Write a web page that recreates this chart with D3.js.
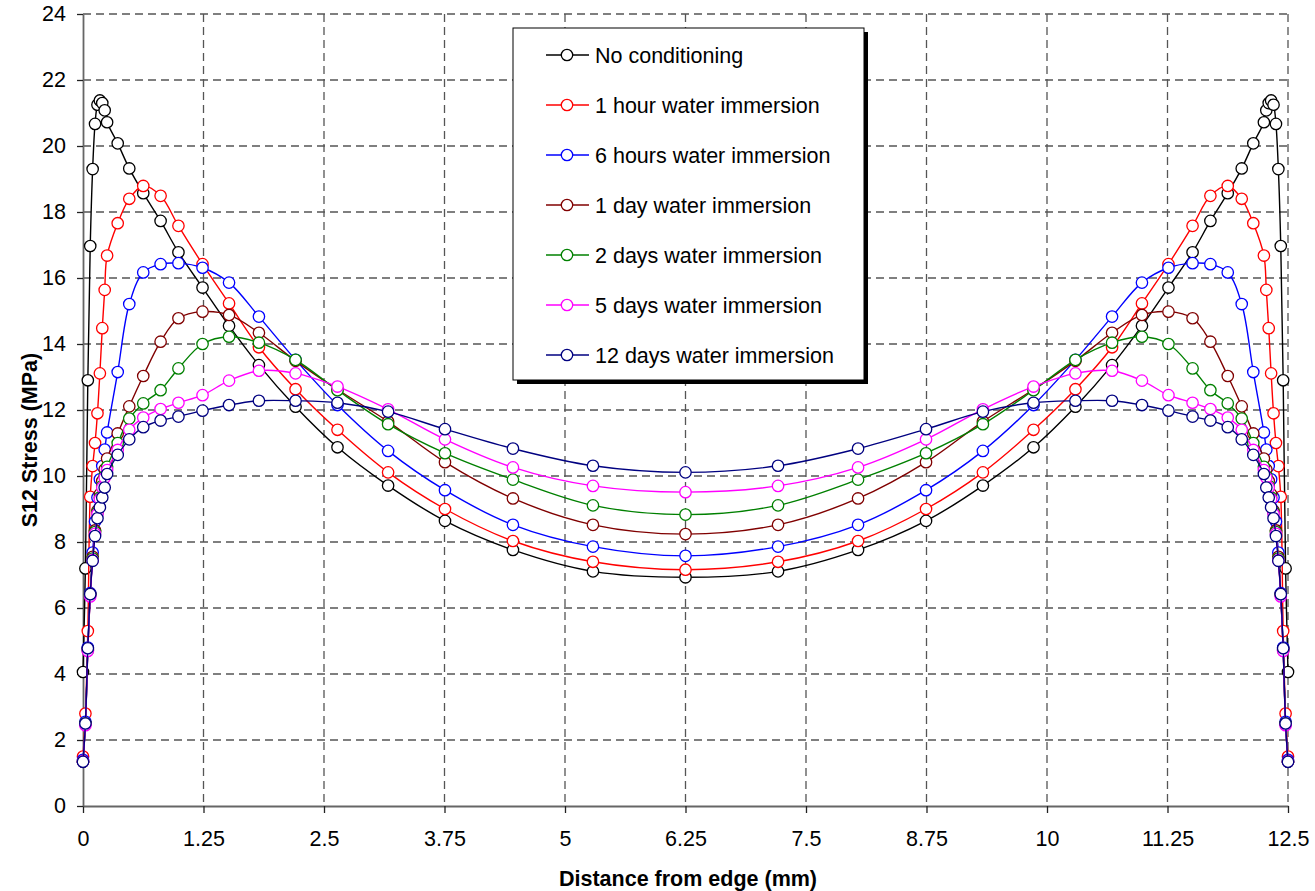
<!DOCTYPE html>
<html>
<head>
<meta charset="utf-8">
<script src="https://cdn.jsdelivr.net/npm/d3@7"></script>
<style>
  html, body { margin: 0; padding: 0; background: #fff; }
  svg { display: block; font-family: "Liberation Sans", Arial, sans-serif; }
</style>
</head>
<body>
<svg id="chart" width="1315" height="891"></svg>
<script>
// ---- data ----
const xNodes = [0, 0.025, 0.05, 0.075, 0.1, 0.125, 0.15, 0.175, 0.2, 0.225, 0.25, 0.36, 0.48, 0.625, 0.805, 0.99, 1.24, 1.515, 1.825, 2.205, 2.64, 3.165, 3.755, 4.46, 5.29, 6.25,
  7.21, 8.04, 8.745, 9.335, 9.86, 10.295, 10.675, 10.985, 11.26, 11.51, 11.695, 11.875, 12.02, 12.14, 12.25, 12.275, 12.3, 12.325, 12.35, 12.375, 12.4, 12.425, 12.45, 12.475, 12.5];

const seriesNames = ["No conditioning", "1 hour water immersion", "6 hours water immersion", "1 day water immersion", "2 days water immersion", "5 days water immersion", "12 days water immersion"];
const seriesColors = ["#000000", "#ff0000", "#0000ff", "#800000", "#008000", "#ff00ff", "#000080"];

const noConditioning = [4.06, 7.2, 12.9, 16.97, 19.3, 20.67, 21.25, 21.38, 21.3, 21.08, 20.72, 20.08, 19.32, 18.57, 17.73, 16.78, 15.71, 14.55, 13.36, 12.10, 10.87, 9.71, 8.64, 7.76, 7.11, 6.93,
  7.11, 7.76, 8.64, 9.71, 10.87, 12.10, 13.36, 14.55, 15.71, 16.78, 17.73, 18.57, 19.32, 20.08, 20.72, 21.08, 21.3, 21.38, 21.25, 20.67, 19.3, 16.97, 12.9, 7.2, 4.06];
const oneHour = [1.5, 2.8, 5.3, 9.37, 10.3, 11.0, 11.9, 13.11, 14.48, 15.64, 16.68, 17.66, 18.40, 18.79, 18.49, 17.58, 16.42, 15.23, 13.90, 12.63, 11.40, 10.11, 9.00, 8.03, 7.40, 7.16,
  7.40, 8.03, 9.00, 10.11, 11.40, 12.63, 13.90, 15.23, 16.42, 17.58, 18.49, 18.79, 18.40, 17.66, 16.68, 15.64, 14.48, 13.11, 11.9, 11.0, 10.3, 9.37, 5.3, 2.8, 1.5];
const sixHours = [1.4, 2.55, 4.8, 6.45, 7.68, 8.62, 9.35, 9.9, 10.3, 10.8, 11.32, 13.15, 15.21, 16.17, 16.42, 16.45, 16.31, 15.86, 14.83, 13.52, 12.15, 10.76, 9.57, 8.52, 7.86, 7.58,
  7.86, 8.52, 9.57, 10.76, 12.15, 13.52, 14.83, 15.86, 16.31, 16.45, 16.42, 16.17, 15.21, 13.15, 11.32, 10.8, 10.3, 9.9, 9.35, 8.62, 7.68, 6.45, 4.8, 2.55, 1.4];
const oneDay = [1.35, 2.5, 4.75, 6.42, 7.55, 8.35, 8.95, 9.45, 9.85, 10.2, 10.53, 11.29, 12.11, 13.03, 14.07, 14.78, 14.98, 14.88, 14.34, 13.49, 12.62, 11.65, 10.42, 9.32, 8.52, 8.24,
  8.52, 9.32, 10.42, 11.65, 12.62, 13.49, 14.34, 14.88, 14.98, 14.78, 14.07, 13.03, 12.11, 11.29, 10.53, 10.2, 9.85, 9.45, 8.95, 8.35, 7.55, 6.42, 4.75, 2.5, 1.35];
const twoDays = [1.35, 2.5, 4.72, 6.4, 7.5, 8.3, 8.9, 9.35, 9.7, 10.0, 10.28, 11.0, 11.74, 12.2, 12.6, 13.26, 14.0, 14.22, 14.04, 13.52, 12.6, 11.57, 10.69, 9.89, 9.11, 8.83,
  9.11, 9.89, 10.69, 11.57, 12.6, 13.52, 14.04, 14.22, 14.0, 13.26, 12.6, 12.2, 11.74, 11.0, 10.28, 10.0, 9.7, 9.35, 8.9, 8.3, 7.5, 6.4, 4.72, 2.5, 1.35];
const fiveDays = [1.35, 2.45, 4.7, 6.35, 7.45, 8.25, 8.85, 9.3, 9.65, 9.95, 10.18, 10.79, 11.4, 11.77, 12.03, 12.22, 12.45, 12.89, 13.19, 13.11, 12.71, 12.02, 11.11, 10.26, 9.70, 9.51,
  9.70, 10.26, 11.11, 12.02, 12.71, 13.11, 13.19, 12.89, 12.45, 12.22, 12.03, 11.77, 11.4, 10.79, 10.18, 9.95, 9.65, 9.3, 8.85, 8.25, 7.45, 6.35, 4.7, 2.45, 1.35];
const twelveDays = [1.34, 2.5, 4.78, 6.42, 7.43, 8.18, 8.72, 9.05, 9.35, 9.65, 10.06, 10.64, 11.11, 11.48, 11.68, 11.8, 11.98, 12.15, 12.28, 12.28, 12.22, 11.95, 11.42, 10.83, 10.31, 10.11,
  10.31, 10.83, 11.42, 11.95, 12.22, 12.28, 12.28, 12.15, 11.98, 11.8, 11.68, 11.48, 11.11, 10.64, 10.06, 9.65, 9.35, 9.05, 8.72, 8.18, 7.43, 6.42, 4.78, 2.5, 1.34];

const xTicks = [0, 1.25, 2.5, 3.75, 5, 6.25, 7.5, 8.75, 10, 11.25, 12.5];
const yTicks = [0, 2, 4, 6, 8, 10, 12, 14, 16, 18, 20, 22, 24];
const xTitle = "Distance from edge (mm)";
const yTitle = "S12 Stress (MPa)";

const seriesValues = [noConditioning, oneHour, sixHours, oneDay, twoDays, fiveDays, twelveDays];

// ---- layout ----
const svg = d3.select("#chart");
const L = 83, R = 1288, T = 14, B = 806;
const x = d3.scaleLinear().domain([0, 12.5]).range([L, R]);
const y = d3.scaleLinear().domain([0, 24]).range([B, T]);
const fontSize = 21.5;

// gridlines
const grid = svg.append("g");
grid.selectAll("line.h").data(yTicks.filter(d => d > 0)).join("line")
  .attr("x1", L).attr("x2", R).attr("y1", d => y(d)).attr("y2", d => y(d))
  .attr("stroke", "#555").attr("stroke-width", 1.3).attr("stroke-dasharray", "8,5");
grid.selectAll("line.v").data(xTicks.filter(d => d > 0)).join("line")
  .attr("x1", d => x(d)).attr("x2", d => x(d)).attr("y1", T).attr("y2", B)
  .attr("stroke", "#555").attr("stroke-width", 1.3).attr("stroke-dasharray", "8,5");

// axes
const xAxis = d3.axisBottom(x).tickValues(xTicks).tickFormat(d => String(d)).tickSizeInner(7).tickSizeOuter(0).tickPadding(18);
const yAxis = d3.axisLeft(y).tickValues(yTicks).tickFormat(d => String(d)).tickSizeInner(6).tickSizeOuter(0).tickPadding(11);
const gx = svg.append("g").attr("transform", `translate(0,${B})`).call(xAxis);
const gy = svg.append("g").attr("transform", `translate(${L},0)`).call(yAxis);
[gx, gy].forEach(g => {
  g.select(".domain").attr("stroke", "#666").attr("stroke-width", 1.8);
  g.selectAll(".tick line").attr("stroke", "#222").attr("stroke-width", 1.3);
  g.selectAll(".tick text").attr("fill", "#000").style("font-size", fontSize + "px")
    .style("font-family", '"Liberation Sans", Arial, sans-serif');
});

// axis titles
svg.append("text").attr("x", 688).attr("y", 886).attr("text-anchor", "middle")
  .style("font-size", fontSize + "px").style("font-weight", "bold").text(xTitle);
svg.append("text").attr("transform", `translate(37,440) rotate(-90)`).attr("text-anchor", "middle")
  .style("font-size", fontSize + "px").style("font-weight", "bold").text(yTitle);

// series
const line = d3.line().x((d, i) => x(xNodes[i])).y(d => y(d)).curve(d3.curveCatmullRom.alpha(0.5));
seriesValues.forEach((vals, si) => {
  const g = svg.append("g");
  g.append("path").attr("d", line(vals)).attr("fill", "none")
    .attr("stroke", seriesColors[si]).attr("stroke-width", 1.4);
  g.selectAll("circle").data(vals).join("circle")
    .attr("cx", (d, i) => x(xNodes[i])).attr("cy", d => y(d)).attr("r", 5.7)
    .attr("fill", "#fff").attr("stroke", seriesColors[si]).attr("stroke-width", 1.3);
});

// legend
const lg = svg.append("g");
const lx = 513, ly = 28, lw = 351, lh = 352;
lg.append("rect").attr("x", lx + 4).attr("y", ly + 4).attr("width", lw).attr("height", lh).attr("fill", "#000");
lg.append("rect").attr("x", lx).attr("y", ly).attr("width", lw).attr("height", lh)
  .attr("fill", "#fff").attr("stroke", "#000").attr("stroke-width", 1);
seriesNames.forEach((name, i) => {
  const cy = 55 + i * 50;
  lg.append("line").attr("x1", 546).attr("x2", 589).attr("y1", cy).attr("y2", cy)
    .attr("stroke", seriesColors[i]).attr("stroke-width", 1.4);
  lg.append("circle").attr("cx", 567).attr("cy", cy).attr("r", 5.7)
    .attr("fill", "#fff").attr("stroke", seriesColors[i]).attr("stroke-width", 1.3);
  lg.append("text").attr("x", 595).attr("y", cy).attr("dy", "0.36em")
    .style("font-size", fontSize + "px").attr("fill", "#000").text(name);
});
</script>
</body>
</html>
